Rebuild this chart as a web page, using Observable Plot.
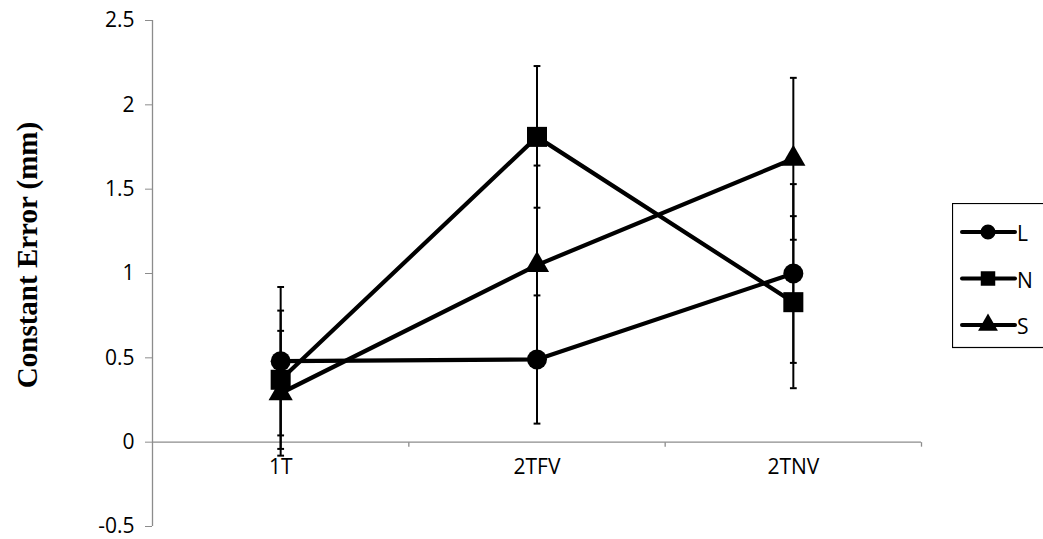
<!DOCTYPE html>
<html>
<head>
<meta charset="utf-8">
<script src="https://cdn.jsdelivr.net/npm/d3@7"></script>
<script src="https://cdn.jsdelivr.net/npm/@observablehq/plot@0.6"></script>
<style>
  html, body { margin: 0; padding: 0; background: #fff; }
  #wrap { position: relative; width: 1043px; height: 539px; overflow: hidden; background: #fff; }
  #legend { position: absolute; left: 952px; top: 203px; }
</style>
</head>
<body>
<div id="wrap"></div>
<script>
// ---- data ----
const categories = ["1T", "2TFV", "2TNV"];
const seriesNames = ["L", "N", "S"];
const L = [0.48, 0.49, 1.00];
const N = [0.37, 1.81, 0.83];
const S = [0.29, 1.05, 1.68];
const Lerr = [0.44, 0.38, 0.53];
const Nerr = [0.41, 0.42, 0.51];
const Serr = [0.37, 0.59, 0.48];
const yTicks = [-0.5, 0, 0.5, 1, 1.5, 2, 2.5];
const yTickLabels = ["-0.5", "0", "0.5", "1", "1.5", "2", "2.5"];
const yLabel = "Constant Error (mm)";

const values = {L, N, S};
const errs = {L: Lerr, N: Nerr, S: Serr};
const rows = [];
for (const s of seriesNames) {
  categories.forEach((c, i) => rows.push({s, c, i, v: values[s][i], e: errs[s][i]}));
}
const boundaries = d3.range(categories.length).map(i => i + 0.5);

// custom symbols
const capSymbol = {
  draw(ctx, size) { const r = Math.sqrt(size / Math.PI); ctx.moveTo(-r, 0); ctx.lineTo(r, 0); }
};
const vtickSymbol = {
  draw(ctx, size) { const r = Math.sqrt(size / Math.PI); ctx.moveTo(0, 0); ctx.lineTo(0, r); }
};

const font = "'Open Sans', sans-serif";
const gray = "#8c8c8c";
const fs = 21;

const chart = Plot.plot({
  width: 1043,
  height: 539,
  marginLeft: 152,
  marginRight: 122,
  marginTop: 20,
  marginBottom: 13,
  style: {fontFamily: font, fontSize: fs + "px", color: "black", background: "white"},
  x: {type: "linear", domain: [-0.5, categories.length - 0.5]},
  y: {domain: [-0.5, 2.5]},
  marks: [
    Plot.ruleX([-0.5], {stroke: gray, strokeWidth: 1.3}),
    Plot.ruleY([0], {stroke: gray, strokeWidth: 1.3}),
    Plot.axisY({ticks: yTicks, tickFormat: (d) => yTickLabels[yTicks.indexOf(d)], tickSize: 7, tickPadding: 11, stroke: gray, fill: "black", fontSize: fs, label: null}),
    Plot.axisX({ticks: [], label: null}),
    Plot.dot(boundaries, {x: d => d, y: () => 0, symbol: vtickSymbol, r: 4.5, stroke: gray, strokeWidth: 1.3}),
    Plot.text(categories, {x: (d, i) => i, y: () => 0, text: d => d, dy: 25, fontSize: fs, fill: "black"}),
    // error bars
    Plot.ruleX(rows, {x: "i", y1: d => d.v - d.e, y2: d => d.v + d.e, stroke: "black", strokeWidth: 2}),
    Plot.dot(rows, {x: "i", y: d => d.v + d.e, symbol: capSymbol, r: 3.4, stroke: "black", strokeWidth: 2}),
    Plot.dot(rows, {x: "i", y: d => d.v - d.e, symbol: capSymbol, r: 3.4, stroke: "black", strokeWidth: 2}),
    // lines
    Plot.line(rows, {x: "i", y: "v", z: "s", stroke: "black", strokeWidth: 4.2}),
    // markers
    Plot.dot(rows.filter(d => d.s === "L"), {x: "i", y: "v", symbol: "circle", r: 10, fill: "black", stroke: "none"}),
    Plot.dot(rows.filter(d => d.s === "N"), {x: "i", y: "v", symbol: "square", r: 11.3, fill: "black", stroke: "none"}),
    Plot.dot(rows.filter(d => d.s === "S"), {x: "i", y: "v", symbol: "triangle", r: 9, fill: "black", stroke: "none"})
  ]
});

const svg = d3.select(chart);
svg.append("text")
  .attr("transform", "translate(27,255) rotate(-90)")
  .attr("text-anchor", "middle")
  .attr("dominant-baseline", "central")
  .style("font-family", "'Liberation Serif', 'Times New Roman', serif")
  .style("font-weight", "bold")
  .style("font-size", "29px")
  .attr("fill", "black")
  .text(yLabel);

const wrap = document.getElementById("wrap");
wrap.appendChild(chart);

// legend
const leg = d3.select(wrap).append("svg").attr("id", "legend")
  .attr("width", 91).attr("height", 146);
leg.append("rect").attr("x", 0.5).attr("y", 0.5).attr("width", 120).attr("height", 144)
  .attr("fill", "white").attr("stroke", "black").attr("stroke-width", 1.2);
const legSymbols = {L: d3.symbolCircle, N: d3.symbolSquare, S: d3.symbolTriangle};
const legSizes = {L: 180, N: 210, S: 170};
seriesNames.forEach((s, k) => {
  const cy = 29 + k * 46.5;
  const g = leg.append("g");
  g.append("line").attr("x1", 10).attr("x2", 63).attr("y1", cy).attr("y2", cy)
    .attr("stroke", "black").attr("stroke-width", 4).attr("stroke-linecap", "round");
  g.append("path").attr("d", d3.symbol(legSymbols[s], legSizes[s])())
    .attr("transform", `translate(36,${cy})`).attr("fill", "black");
  g.append("text").attr("x", 65).attr("y", cy + 1).attr("dominant-baseline", "central")
    .style("font-family", font).style("font-size", fs + "px").attr("fill", "black").text(s);
});
</script>
</body>
</html>
